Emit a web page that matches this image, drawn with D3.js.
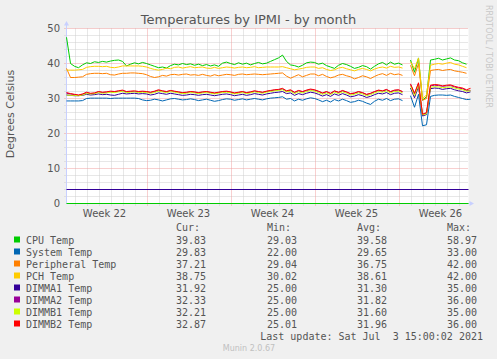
<!DOCTYPE html>
<html><head><meta charset="utf-8">
<script src="https://cdn.jsdelivr.net/npm/d3@7"></script>
<style>html,body{margin:0;padding:0;background:#f0f0f0}svg{display:block}</style>
</head><body>
<svg id="c" width="497" height="359"></svg>
<script>
// ---- data (samples every 8 hours from 2021-05-31 08:00 UTC) ----
const startTime = "2021-05-31T08:00:00Z";
const endTime = "2021-07-03T20:00:00Z";
const stepHours = 8;
const seriesNames = ["CPU Temp","System Temp","Peripheral Temp","PCH Temp","DIMMA1 Temp","DIMMA2 Temp","DIMMB1 Temp","DIMMB2 Temp"];
const cpuTemp = [47.5,40.0,39.2,38.8,39.6,40.2,40.0,40.5,40.3,40.6,40.4,40.7,40.9,41.0,40.6,39.3,39.8,40.2,39.9,40.3,
 40.0,39.6,39.2,38.8,39.0,38.7,39.4,39.8,39.6,40.0,39.7,39.9,39.5,39.8,39.4,39.7,39.3,39.6,39.2,40.1,40.4,
 40.0,39.7,40.2,39.8,40.1,39.6,40.0,40.3,39.9,40.1,40.6,41.1,41.6,42.4,40.6,39.6,39.4,39.0,39.5,40.2,40.4,
 40.3,39.8,40.1,39.4,39.0,38.6,39.5,40.0,39.7,39.2,38.6,38.9,39.4,39.1,38.4,39.2,39.9,40.3,39.6,40.4,39.8,
 40.1,39.6,null,41.0,37.5,41.6,29.5,30.5,41.0,41.2,41.5,41.0,41.3,41.6,41.0,40.8,40.2,39.8];
const systemTemp = [29.3,29.3,29.3,29.3,29.4,30.0,30.1,30.1,30.1,30.1,30.1,30.0,30.1,30.1,30.1,30.1,30.1,30.1,30.0,29.6,
 29.4,29.5,29.8,29.6,29.3,29.6,29.9,30.0,29.8,29.6,29.7,29.9,29.7,29.4,29.6,29.8,29.5,29.2,29.4,29.7,29.9,
 29.8,29.5,29.7,29.9,29.6,29.8,30.0,29.8,29.6,29.9,30.1,30.2,30.3,30.5,29.8,30.0,29.3,29.8,29.5,29.9,30.2,
 30.0,29.6,29.1,29.5,29.0,29.7,29.3,29.8,29.4,28.9,29.1,29.5,29.2,28.7,28.3,29.2,29.8,29.5,30.0,29.4,29.8,
 29.9,29.4,null,30.8,27.5,31.2,22.2,22.5,30.6,30.9,31.0,31.0,30.9,31.0,30.6,30.3,30.0,29.7,29.8];
const peripheralTemp = [38.6,36.0,36.0,36.1,36.2,36.9,37.1,37.2,37.2,37.1,37.2,36.8,36.7,37.0,37.2,37.2,37.3,37.3,37.2,37.1,
 36.8,36.3,36.0,36.2,36.6,36.4,36.8,36.9,36.7,36.9,37.0,36.7,36.8,36.6,36.9,36.6,36.4,36.8,36.5,36.7,36.9,
 36.8,36.6,36.9,37.0,36.8,36.9,37.0,36.9,36.8,36.9,37.0,37.1,37.2,37.3,36.4,35.8,36.3,36.8,36.2,36.6,37.0,
 37.0,36.5,36.9,36.3,35.9,36.2,36.7,36.9,36.5,36.2,35.6,36.0,36.5,36.2,35.7,36.3,36.8,37.1,36.6,37.2,36.8,
 37.0,36.6,null,39.5,36.5,40.0,29.5,30.0,38.0,38.2,38.3,38.0,38.2,38.3,37.9,37.7,37.5,37.2];
const pchTemp = [38.1,38.1,38.1,38.2,38.3,38.9,39.1,39.2,39.2,39.1,39.2,38.9,38.8,39.0,39.3,39.3,39.3,39.3,39.3,39.2,
 39.0,38.6,38.3,38.1,38.3,38.7,38.5,38.9,39.0,38.7,38.9,39.1,38.8,38.9,39.0,38.7,38.6,38.9,38.6,38.8,39.0,
 38.9,38.7,38.9,39.0,38.8,38.9,39.1,38.8,38.9,39.0,39.0,39.0,39.0,39.1,38.8,38.5,38.2,38.4,38.6,38.9,39.0,
 39.0,38.6,38.8,38.3,38.0,38.2,38.7,38.9,38.5,38.2,37.9,38.3,38.6,38.3,37.9,38.4,38.8,39.0,38.7,39.2,38.9,
 39.0,38.7,null,40.5,38.5,41.5,30.0,31.0,39.5,39.8,40.0,39.8,40.1,40.3,39.8,39.6,39.2,38.8];
const dimma1Temp = [31.0,30.9,30.8,30.8,30.9,31.2,31.0,31.1,31.3,31.1,31.2,31.0,30.9,31.2,31.5,31.3,31.4,31.5,31.3,31.4,
 31.3,31.0,31.2,31.6,31.4,31.2,31.5,31.3,31.1,30.9,31.0,31.2,31.1,30.9,31.1,31.2,31.0,30.8,31.0,31.2,31.3,
 31.1,30.8,31.0,31.2,30.9,31.1,31.4,31.2,31.0,31.3,31.5,31.7,31.8,32.0,31.4,31.6,30.9,31.4,31.1,31.5,31.8,
 31.6,31.2,30.7,31.1,30.6,31.3,30.9,31.4,31.0,30.5,30.7,31.1,30.8,30.3,30.6,31.1,31.5,31.3,31.7,31.1,31.5,
 31.6,31.1,null,33.0,30.2,33.4,25.0,25.4,32.8,33.0,32.9,32.6,32.8,32.9,32.5,32.2,32.0,31.6,31.9];
const dimma2Temp = [31.5,31.3,31.1,30.9,31.2,31.6,31.4,31.5,31.9,31.7,31.8,31.9,31.9,32.1,32.2,31.9,32.0,32.0,31.9,32.0,
 31.9,31.7,32.0,32.3,32.1,31.9,32.2,32.0,31.8,31.6,31.7,31.9,31.8,31.6,31.8,31.9,31.7,31.5,31.7,31.9,32.0,
 31.8,31.5,31.7,31.9,31.6,31.8,32.1,31.9,31.7,32.0,32.2,32.4,32.5,32.7,32.1,32.3,31.7,32.2,31.9,32.3,32.5,
 32.4,32.0,31.5,31.9,31.4,32.1,31.7,32.2,31.8,31.3,31.5,31.9,31.6,31.1,31.4,31.9,32.3,32.1,32.5,31.9,32.3,
 32.4,31.9,null,34.0,31.3,34.3,25.4,25.8,33.6,33.8,33.7,33.5,33.6,33.7,33.3,33.0,32.8,32.3,32.3];
const dimmb1Temp = [31.0,30.9,30.9,30.8,31.0,31.4,31.3,31.4,31.7,31.5,31.6,31.8,31.7,31.9,32.0,31.7,31.8,31.9,31.7,31.8,
 31.7,31.5,31.7,32.1,31.9,31.7,32.0,31.8,31.6,31.4,31.5,31.7,31.6,31.4,31.6,31.7,31.5,31.3,31.5,31.7,31.8,
 31.6,31.3,31.5,31.7,31.4,31.6,31.9,31.7,31.5,31.8,32.0,32.2,32.3,32.5,31.9,32.1,31.4,31.9,31.6,32.0,32.3,
 32.1,31.7,31.2,31.6,31.1,31.8,31.4,31.9,31.5,31.0,31.2,31.6,31.3,30.8,31.1,31.6,32.0,31.8,32.2,31.6,32.0,
 32.1,31.6,null,33.6,30.8,33.9,25.3,25.6,33.2,33.4,33.3,33.1,33.2,33.3,33.0,32.7,32.5,32.1,32.2];
const dimmb2Temp = [31.7,31.4,31.2,31.0,31.3,31.8,31.5,31.6,32.0,31.8,31.9,32.1,32.0,32.2,32.4,32.0,32.1,32.2,32.0,32.1,
 32.0,31.8,32.1,32.5,32.2,32.0,32.3,32.1,31.9,31.7,31.8,32.0,31.9,31.7,31.9,32.0,31.8,31.6,31.8,32.0,32.1,
 31.9,31.6,31.8,32.0,31.7,31.9,32.2,32.0,31.8,32.1,32.3,32.5,32.6,32.9,32.2,32.5,31.8,32.3,32.0,32.4,32.7,
 32.5,32.1,31.6,32.0,31.5,32.2,31.8,32.3,31.9,31.4,31.6,32.0,31.7,31.2,31.5,32.0,32.4,32.2,32.6,32.0,32.4,
 32.5,32.0,null,34.2,31.5,34.5,25.5,26.0,33.8,34.0,33.9,33.6,33.8,33.9,33.5,33.2,33.0,32.5,32.9];
const curValues = ["39.83","29.83","37.21","38.75","31.92","32.33","32.21","32.87"];
const minValues = ["29.03","22.00","29.04","30.02","25.00","25.00","25.00","25.01"];
const avgValues = ["39.58","29.65","36.75","38.61","31.30","31.82","31.60","31.96"];
const maxValues = ["58.97","33.00","42.00","42.00","35.00","36.00","35.00","36.00"];
const yTicks = [0,10,20,30,40,50];
const hruleValues = [0,4];
const lastUpdate = "Last update: Sat Jul  3 15:00:02 2021";

// ---- drawing ----
const colors = ["#00cc00","#0066b3","#ff8000","#ffcc00","#330099","#990099","#ccff00","#ff0000"];
const hruleColors = ["#00cc00","#330099"];
const seriesData = [cpuTemp,systemTemp,peripheralTemp,pchTemp,dimma1Temp,dimma2Temp,dimmb1Temp,dimmb2Temp];
const svg = d3.select("#c");
const L = 66.5, R = 468.5, T = 28.5, B = 203.5;
const t0 = new Date(startTime), t1 = new Date(endTime);
const x = d3.scaleUtc().domain([t0,t1]).range([L,R]);
const y = d3.scaleLinear().domain([0,50]).range([B,T]);
const timeAt = i => new Date(t0.getTime() + i*stepHours*3600e3);

svg.append("rect").attr("x",L).attr("y",T).attr("width",R-L).attr("height",B-T).attr("fill","#ffffff");

// minor grid
const days = d3.utcDay.range(d3.utcDay.ceil(t0), t1);
const mondays = d3.utcMonday.range(d3.utcMonday.ceil(t0), t1);
const g = svg.append("g");
g.selectAll("line.vd").data(days.filter(d=>d.getUTCDay()!==1)).join("line")
 .attr("x1",d=>Math.round(x(d))+0.5).attr("x2",d=>Math.round(x(d))+0.5).attr("y1",T).attr("y2",B+2)
 .attr("stroke","#cfcfcf").attr("stroke-dasharray","1,1");
const minorY = d3.range(2,50,2).filter(v=>v%10!==0);
g.selectAll("line.hd").data(minorY).join("line")
 .attr("x1",L-2).attr("x2",R).attr("y1",d=>y(d)).attr("y2",d=>y(d))
 .attr("stroke","#cfcfcf").attr("stroke-dasharray","1,1");
// major grid
g.selectAll("line.vm").data(mondays).join("line")
 .attr("x1",d=>Math.round(x(d))+0.5).attr("x2",d=>Math.round(x(d))+0.5).attr("y1",T).attr("y2",B+2)
 .attr("stroke","#f0a0a0").attr("stroke-dasharray","1,1");
g.selectAll("line.hm").data(yTicks.filter(v=>v>0)).join("line")
 .attr("x1",L-2).attr("x2",R).attr("y1",d=>y(d)).attr("y2",d=>y(d))
 .attr("stroke","#f0a0a0").attr("stroke-dasharray","1,1");

// axes lines + arrows
svg.append("line").attr("x1",L).attr("x2",L).attr("y1",B).attr("y2",T-5).attr("stroke","#c8d0ff");
svg.append("line").attr("x1",L).attr("x2",R+1).attr("y1",B).attr("y2",B).attr("stroke","#c8d0ff");
svg.append("path").attr("d",`M${L-2.5},${T-3} L${L+2.5},${T-3} L${L},${T-7.5} Z`).attr("fill","#c8d0ff");
svg.append("path").attr("d",`M${R+1},${B-2.5} L${R+1},${B+2.5} L${R+5.5},${B} Z`).attr("fill","#c8d0ff");

// y tick labels
svg.append("g").selectAll("text").data(yTicks).join("text")
 .attr("x",60).attr("y",d=>y(d)+3.5).attr("text-anchor","end")
 .attr("font-family","DejaVu Sans").attr("font-size",10).attr("fill","#555").text(d=>d);
// x labels (mid-week)
const fmt = d3.utcFormat("Week %V");
const weekStarts = [d3.utcMonday.floor(t0), ...mondays];
svg.append("g").selectAll("text").data(weekStarts).join("text")
 .attr("x",d=>x(d3.utcHour.offset(d,84))).attr("y",216.5).attr("text-anchor","middle")
 .attr("font-family","DejaVu Sans").attr("font-size",10).attr("fill","#555").text(d=>fmt(d));

// hrules
svg.append("g").selectAll("line").data(hruleValues).join("line")
 .attr("x1",L).attr("x2",R).attr("y1",d=>Math.round(y(d))-0.5).attr("y2",d=>Math.round(y(d))-0.5)
 .attr("stroke",(d,i)=>hruleColors[i]).attr("stroke-width",1);

// series
const line = d3.line().defined(d=>d!=null).x((d,i)=>x(timeAt(i))).y(d=>y(d));
svg.append("g").selectAll("path").data(seriesData).join("path")
 .attr("d",d=>line(d)).attr("fill","none").attr("stroke",(d,i)=>colors[i]).attr("stroke-width",1);

// title and axis label
svg.append("text").attr("x",248.5).attr("y",24).attr("text-anchor","middle")
 .attr("font-family","DejaVu Sans").attr("font-size",13).attr("fill","#555").text("Temperatures by IPMI - by month");
svg.append("text").attr("transform","translate(14,114) rotate(-90)").attr("text-anchor","middle")
 .attr("font-family","DejaVu Sans").attr("font-size",11).attr("fill","#555").text("Degrees Celsius");
svg.append("text").attr("transform","translate(486,5) rotate(90)").attr("text-anchor","start")
 .attr("font-family","DejaVu Sans").attr("font-size",8).attr("fill","#c8c8c8").text("RRDTOOL / TOBI OETIKER");

// legend
const mono = "DejaVu Sans Mono";
const colX = [176,267,357,447];
const hdr = svg.append("g").attr("font-family",mono).attr("font-size",10).attr("fill","#555");
["Cur:","Min:","Avg:","Max:"].forEach((h,i)=>hdr.append("text").attr("x",colX[i]).attr("y",231).text(h));
const rows = svg.append("g").attr("font-family",mono).attr("font-size",10).attr("fill","#555");
seriesNames.forEach((n,i)=>{
  const yy = 243.5 + i*12;
  rows.append("rect").attr("x",14).attr("y",yy-7).attr("width",6).attr("height",6).attr("fill",colors[i]);
  rows.append("text").attr("x",26).attr("y",yy).text(n);
  [curValues,minValues,avgValues,maxValues].forEach((arr,j)=>rows.append("text").attr("x",colX[j]).attr("y",yy).text(arr[i]));
});
rows.append("text").attr("x",483).attr("y",339.5).attr("text-anchor","end").attr("xml:space","preserve").style("white-space","pre").text(lastUpdate);
svg.append("text").attr("x",249).attr("y",350.5).attr("text-anchor","middle")
 .attr("font-family","DejaVu Sans").attr("font-size",8).attr("fill","#c0c0c0").text("Munin 2.0.67");
</script>
</body></html>
